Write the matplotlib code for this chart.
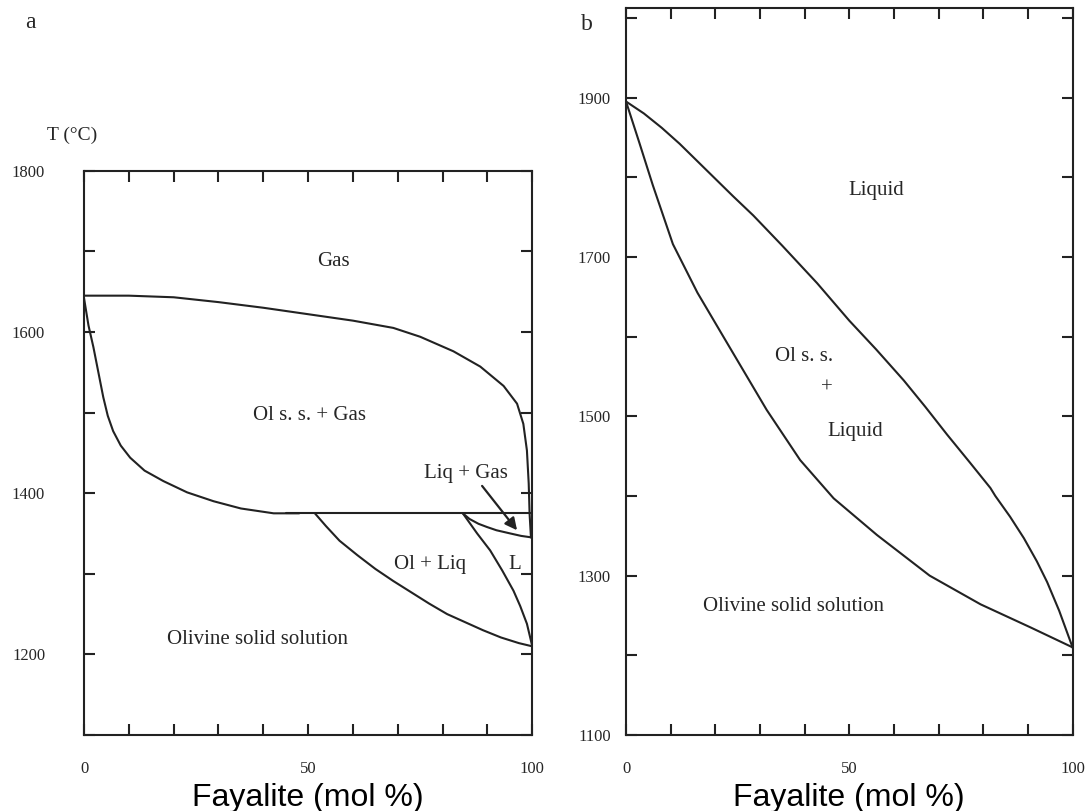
import matplotlib
matplotlib.use("Agg")
import matplotlib.pyplot as plt

# ===============================
# DATA
# ===============================
# panel a : olivine + gas system
gas_x = [0, 10, 20, 30, 40, 50, 60, 69, 75, 82.4, 88.4, 93.6, 96.6, 98, 98.8, 99.2, 99.4, 99.7]
gas_T = [1645, 1645, 1643, 1637, 1630, 1622, 1614, 1605, 1594, 1576, 1557, 1533, 1511, 1486, 1453, 1412, 1374, 1345]

olgas_x = [0, 1, 2.1, 3.2, 4.3, 5.3, 6.5, 8.2, 10.3, 13.5, 17.7, 23, 28.9, 35, 42.3, 48]
olgas_T = [1642, 1608, 1581, 1550, 1519, 1496, 1477, 1459, 1444, 1428, 1415, 1401, 1390, 1381, 1375, 1375]

flat_x = [45, 100]
flat_T = [1375, 1375]

olliq_sol_x = [51.5, 54, 57, 61, 65, 69, 73, 77, 81, 85, 89, 93, 97, 100]
olliq_sol_T = [1375, 1359, 1341, 1323, 1306, 1291, 1277, 1263, 1250, 1240, 1230, 1221, 1214, 1210]

olliq_liq_x = [84.5, 87.7, 90.6, 93.3, 95.8, 97.3, 98.8, 100]
olliq_liq_T = [1375, 1350, 1329, 1304, 1279, 1260, 1238, 1210]

liqgas_x = [84.5, 86, 88, 89.9, 92, 95.1, 97.5, 100]
liqgas_T = [1375, 1368, 1362, 1358, 1354, 1350, 1347, 1345]

arrow_tail = (88.8, 1409)
arrow_head = (96.6, 1354)

labels_a = ["Gas", "Ol s. s. + Gas", "Liq + Gas", "Ol + Liq", "L", "Olivine solid solution"]
labels_a_x = [55.6, 50.4, 85.2, 77.2, 96.0, 38.8]
labels_a_T = [1688, 1496, 1424, 1312, 1312, 1219]

yticks_a = [1100, 1200, 1300, 1400, 1500, 1600, 1700, 1800]
ylabels_a = ["", "1200", "", "1400", "", "1600", "", "1800"]

# panel b : olivine liquidus / solidus
liq_x = [0, 4, 8, 12, 16, 20, 24, 28.5, 35, 42.8, 50, 56, 62.2, 67, 71.9, 77, 81.6, 82.7, 86, 89.1, 92, 94.3, 97, 100]
liq_T = [1895, 1880, 1862, 1842, 1820, 1798, 1776, 1752, 1714, 1667, 1620, 1584, 1545, 1512, 1477, 1442, 1410, 1400, 1374, 1347, 1318, 1292, 1256, 1210]

sol_x = [0, 3, 6, 10.5, 16, 22, 31.5, 39, 46.5, 56.2, 68, 79.4, 90.6, 100]
sol_T = [1895, 1843, 1790, 1716, 1655, 1598, 1508, 1445, 1397, 1351, 1300, 1264, 1235, 1210]

labels_b = ["Liquid", "Ol s. s.", "+", "Liquid", "Olivine solid solution"]
labels_b_x = [56.0, 39.8, 45.0, 51.3, 37.5]
labels_b_T = [1783, 1575, 1535, 1481, 1261]

yticks_b = [1100, 1200, 1300, 1400, 1500, 1600, 1700, 1800, 1900, 2000]
ylabels_b = ["1100", "", "1300", "", "1500", "", "1700", "", "1900", ""]

xticks = [0, 10, 20, 30, 40, 50, 60, 70, 80, 90, 100]
xlabels = ["0", "", "", "", "", "50", "", "", "", "", "100"]

# ===============================
# STYLE
# ===============================
ink = "#222222"
txt_col = "#262626"
serif = "Liberation Serif"
lw = 1.5

fig = plt.figure(figsize=(10.91, 8.11), dpi=100)
ax_a = fig.add_axes([0.0770, 0.0937, 0.4109, 0.6958])
ax_b = fig.add_axes([0.5738, 0.0937, 0.4093, 0.8961])


def style_axes(ax, ylim, yticks, ylabels, ypad):
    ax.set_xlim(0, 100)
    ax.set_ylim(*ylim)
    ax.set_xticks(xticks)
    ax.set_xticklabels(xlabels)
    ax.set_yticks(yticks)
    ax.set_yticklabels(ylabels)
    ax.tick_params(direction="in", length=8, width=lw, colors=ink,
                   top=True, right=True, labelsize=12)
    ax.tick_params(axis="x", pad=19)
    ax.tick_params(axis="y", pad=ypad)
    for lab in ax.get_xticklabels() + ax.get_yticklabels():
        lab.set_fontfamily(serif)
        lab.set_color(txt_col)
    for sp in ax.spines.values():
        sp.set_linewidth(lw)
        sp.set_color(ink)
    ax.set_xlabel("Fayalite (mol %)", fontsize=23, family="Liberation Sans",
                  color="black", labelpad=4)


# ---- panel a
style_axes(ax_a, (1100, 1800), yticks_a, ylabels_a, 28)
for xs, ts in [(gas_x, gas_T), (olgas_x, olgas_T), (flat_x, flat_T),
               (olliq_sol_x, olliq_sol_T), (olliq_liq_x, olliq_liq_T),
               (liqgas_x, liqgas_T)]:
    ax_a.plot(xs, ts, color=ink, lw=lw, solid_capstyle="round")
ax_a.annotate("", xy=arrow_head, xytext=arrow_tail,
              arrowprops=dict(arrowstyle="-|>", color=ink, lw=1.6,
                              mutation_scale=18, shrinkA=0, shrinkB=0))
for txt, x, t in zip(labels_a, labels_a_x, labels_a_T):
    ax_a.text(x, t, txt, ha="center", va="center", fontsize=15,
              family=serif, color=txt_col)

# ---- panel b
style_axes(ax_b, (1100, 2012), yticks_b, ylabels_b, 11)
ax_b.plot(liq_x, liq_T, color=ink, lw=lw)
ax_b.plot(sol_x, sol_T, color=ink, lw=lw)
for txt, x, t in zip(labels_b, labels_b_x, labels_b_T):
    ax_b.text(x, t, txt, ha="center", va="center", fontsize=15,
              family=serif, color=txt_col)

# ---- panel letters and axis title
fig.text(30 / 1091, 1 - 22 / 811, "a", ha="center", va="center",
         fontsize=17, family=serif, color=txt_col)
fig.text(587 / 1091, 1 - 25 / 811, "b", ha="center", va="center",
         fontsize=17, family=serif, color=txt_col)
fig.text(72 / 1091, 1 - 135 / 811, "T (°C)", ha="center", va="center",
         fontsize=14, family=serif, color=txt_col)

fig.savefig("out.png", dpi=100)
